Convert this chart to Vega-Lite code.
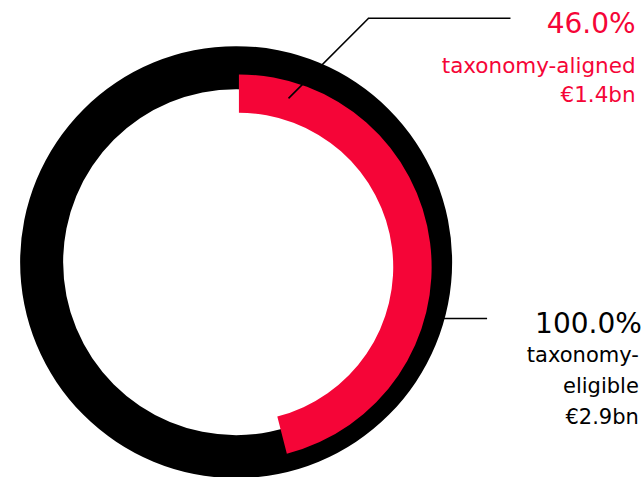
{
  "$schema": "https://vega.github.io/schema/vega-lite/v6.json",
  "width": 644,
  "height": 477,
  "autosize": {"type": "none"},
  "padding": 0,
  "background": "#ffffff",
  "config": {
    "view": {"stroke": null},
    "axis": {"disable": true}
  },
  "data": {
    "values": [
      {"category": "taxonomy-eligible", "share": 1.0, "label": "taxonomy-\neligible", "amount": "€2.9bn"},
      {"category": "taxonomy-aligned", "share": 0.46, "label": "taxonomy-aligned", "amount": "€1.4bn"}
    ]
  },
  "transform": [
    {"calculate": "datum.label + '\\n' + datum.amount", "as": "caption"}
  ],
  "encoding": {
    "x": {"datum": 0, "type": "quantitative", "scale": {"domain": [-110, 190], "nice": false, "zero": false}, "axis": null},
    "y": {"datum": 0, "type": "quantitative", "scale": {"domain": [-100, 122], "nice": false, "zero": false}, "axis": null}
  },
  "layer": [
    {
      "transform": [{"filter": "datum.category === 'taxonomy-eligible'"}],
      "mark": {"type": "arc", "radius": 216, "radius2": 173, "color": "#000000"},
      "encoding": {
        "theta": {"field": "share", "type": "quantitative", "scale": {"domain": [0, 1]}}
      }
    },
    {
      "transform": [{"filter": "datum.category === 'taxonomy-aligned'"}],
      "mark": {"type": "arc", "radius": 192.7, "radius2": 154.3, "color": "#F50537"},
      "encoding": {
        "x": {"datum": 1.3, "type": "quantitative"},
        "y": {"datum": -2.3, "type": "quantitative"},
        "theta": {"field": "share", "type": "quantitative", "scale": {"domain": [0, 1]}}
      }
    },
    {
      "transform": [{"filter": "datum.category === 'taxonomy-aligned'"}],
      "mark": {"type": "rule", "color": "#000000", "strokeWidth": 1.6},
      "encoding": {
        "x": {"datum": 24.4, "type": "quantitative"},
        "y": {"datum": 76.2, "type": "quantitative"},
        "x2": {"datum": 61.7},
        "y2": {"datum": 113.5}
      }
    },
    {
      "transform": [{"filter": "datum.category === 'taxonomy-aligned'"}],
      "mark": {"type": "rule", "color": "#000000", "strokeWidth": 1.6},
      "encoding": {
        "x": {"datum": 61.4, "type": "quantitative"},
        "y": {"datum": 113.5, "type": "quantitative"},
        "x2": {"datum": 127.8},
        "y2": {"datum": 113.5}
      }
    },
    {
      "transform": [{"filter": "datum.category === 'taxonomy-eligible'"}],
      "mark": {"type": "rule", "color": "#000000", "strokeWidth": 1.6},
      "encoding": {
        "x": {"datum": 96.0, "type": "quantitative"},
        "y": {"datum": -26.2, "type": "quantitative"},
        "x2": {"datum": 116.9},
        "y2": {"datum": -26.2}
      }
    },
    {
      "transform": [{"filter": "datum.category === 'taxonomy-aligned'"}],
      "mark": {"type": "text", "align": "right", "baseline": "alphabetic", "font": "DejaVu Sans", "fontSize": 28, "fontWeight": "normal", "color": "#F50537"},
      "encoding": {
        "x": {"datum": 186.1, "type": "quantitative"},
        "y": {"datum": 106.5, "type": "quantitative"},
        "text": {"field": "share", "type": "quantitative", "format": ".1%"}
      }
    },
    {
      "transform": [{"filter": "datum.category === 'taxonomy-aligned'"}],
      "mark": {"type": "text", "align": "right", "baseline": "alphabetic", "font": "DejaVu Sans", "fontSize": 21.5, "lineHeight": 29, "lineBreak": "\n", "color": "#F50537"},
      "encoding": {
        "x": {"datum": 186.1, "type": "quantitative"},
        "y": {"datum": 88.15, "type": "quantitative"},
        "text": {"field": "caption", "type": "nominal"}
      }
    },
    {
      "transform": [{"filter": "datum.category === 'taxonomy-eligible'"}],
      "mark": {"type": "text", "align": "right", "baseline": "alphabetic", "font": "DejaVu Sans", "fontSize": 28, "fontWeight": "normal", "color": "#000000"},
      "encoding": {
        "x": {"datum": 189, "type": "quantitative"},
        "y": {"datum": -33.1, "type": "quantitative"},
        "text": {"field": "share", "type": "quantitative", "format": ".1%"}
      }
    },
    {
      "transform": [{"filter": "datum.category === 'taxonomy-eligible'"}],
      "mark": {"type": "text", "align": "right", "baseline": "alphabetic", "font": "DejaVu Sans", "fontSize": 21, "lineHeight": 31, "lineBreak": "\n", "color": "#000000"},
      "encoding": {
        "x": {"datum": 187.6, "type": "quantitative"},
        "y": {"datum": -46.4, "type": "quantitative"},
        "text": {"field": "caption", "type": "nominal"}
      }
    }
  ]
}
